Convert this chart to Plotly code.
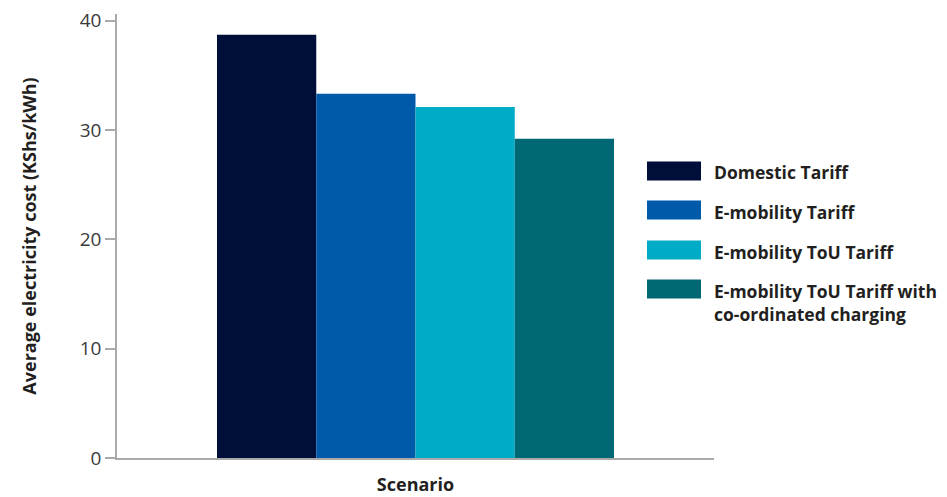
import plotly.graph_objects as go

category = ["Scenario"]
series_names = ["Domestic Tariff", "E-mobility Tariff", "E-mobility ToU Tariff",
                "E-mobility ToU Tariff with<br>co-ordinated charging"]
series_values = [38.7, 33.3, 32.1, 29.2]
colors = ["#000f3a", "#005aaa", "#00abc6", "#006874"]
y_ticks = [0, 10, 20, 30, 40]

FONT = "Open Sans"
TXT = "#231f20"

# page has an 8px body margin; compensate
L, T, PW, PH = 109, 6, 597, 444
fig = go.Figure()
for name, val, col in zip(series_names, series_values, colors):
    fig.add_trace(go.Bar(x=category, y=[val], name=name, marker=dict(color=col, line=dict(width=0)),
                         showlegend=False))

# custom legend (wide swatches), positions in screenshot pixels
leg_y = [171, 210, 250, 289]
X0, Y0 = 117, 458
for i, (name, col) in enumerate(zip(series_names, colors)):
    yc = leg_y[i]
    fig.add_shape(type="rect", xref="paper", yref="paper",
                  x0=(647 - X0) / PW, x1=(701 - X0) / PW,
                  y0=(Y0 - (yc + 9.5)) / PH, y1=(Y0 - (yc - 9.5)) / PH,
                  fillcolor=col, line=dict(width=0))
    fig.add_annotation(xref="paper", yref="paper", x=(712 - X0) / PW,
                       y=(Y0 - (yc - 12.5)) / PH, xanchor="left", yanchor="top",
                       text="<b>" + name + "</b>", showarrow=False, align="left",
                       font=dict(family=FONT, size=17.5, color=TXT))

fig.update_layout(
    width=939, height=489,
    margin=dict(l=L, r=233, t=T, b=39),
    plot_bgcolor="white", paper_bgcolor="white",
    barmode="group", bargap=0.335, bargroupgap=0,
    font=dict(family=FONT, size=18, color=TXT),
    xaxis=dict(showline=True, linecolor="#aaaaaa", linewidth=1.5, ticks="", automargin=False,
               ticklabelstandoff=10,
               tickfont=dict(family=FONT, size=18, color=TXT), tickprefix="<b>", ticksuffix="</b>",
               showgrid=False, zeroline=False),
    yaxis=dict(range=[0, 40.6], tickvals=y_ticks, showline=True, linecolor="#aaaaaa", linewidth=1.5,
               ticks="outside", ticklen=10, tickcolor="#aaaaaa", tickwidth=1.5, automargin=False,
               ticklabeloverflow="allow",
               tickfont=dict(family=FONT, size=19, color="#3a3a3a"),
               showgrid=False, zeroline=False,
               title=dict(text="<b>Average electricity cost (KShs/kWh)</b>", standoff=38,
                          font=dict(family=FONT, size=18, color=TXT))),
)

fig.write_html("out.html")
